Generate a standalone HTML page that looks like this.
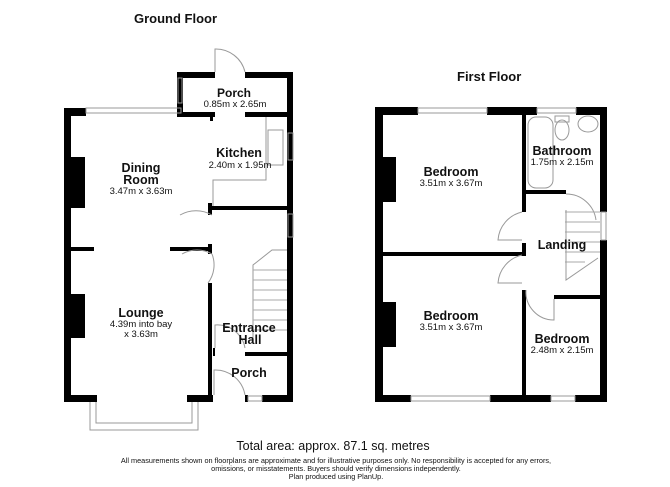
<!DOCTYPE html>
<html><head><meta charset="utf-8"><style>
html,body{margin:0;padding:0;background:#fff;}
svg{display:block;}
text{font-family:"Liberation Sans",Arial,sans-serif;fill:#111;}
.b{font-weight:bold;}
</style></head><body>
<svg width="670" height="487" viewBox="0 0 670 487" xmlns="http://www.w3.org/2000/svg">
<g fill="#000">
<rect x="64" y="108" width="7" height="294"/>
<rect x="64" y="108" width="22" height="8"/>
<rect x="177" y="72" width="6" height="45"/>
<rect x="177" y="72" width="38" height="6"/>
<rect x="245" y="72" width="48" height="6"/>
<rect x="287" y="72" width="6" height="330"/>
<rect x="180" y="112" width="35" height="5"/>
<rect x="210" y="112" width="3" height="9"/>
<rect x="245" y="112" width="48" height="5"/>
<rect x="208" y="206" width="85" height="4"/>
<rect x="208" y="203" width="4" height="12"/>
<rect x="64" y="247" width="30" height="4"/>
<rect x="170" y="247" width="42" height="4"/>
<rect x="208" y="244" width="4" height="10"/>
<rect x="208" y="283" width="4" height="119"/>
<rect x="64" y="395" width="33" height="7"/>
<rect x="187" y="395" width="26" height="7"/>
<rect x="64" y="157" width="21" height="51"/>
<rect x="64" y="294" width="21" height="44"/>
<rect x="245" y="352" width="48" height="4"/>
<rect x="213" y="348" width="2" height="8"/>
<rect x="245" y="395" width="3" height="7"/>
<rect x="262" y="395" width="31" height="7"/>
<rect x="375" y="107" width="8" height="295"/>
<rect x="375" y="107" width="43" height="8"/>
<rect x="487" y="107" width="50" height="8"/>
<rect x="576" y="107" width="31" height="8"/>
<rect x="600" y="107" width="7" height="105"/>
<rect x="600" y="240" width="7" height="162"/>
<rect x="375" y="395" width="36" height="7"/>
<rect x="490" y="395" width="61" height="7"/>
<rect x="575" y="395" width="32" height="7"/>
<rect x="522" y="115" width="4" height="97"/>
<rect x="522" y="190" width="44" height="4"/>
<rect x="522" y="243" width="4" height="12"/>
<rect x="383" y="252" width="143" height="4"/>
<rect x="522" y="290" width="4" height="112"/>
<rect x="554" y="295" width="46" height="4"/>
<rect x="383" y="157" width="13" height="45"/>
<rect x="383" y="302" width="13" height="45"/>
</g>
<g fill="none" stroke="#999" stroke-width="1">
<rect x="86" y="108" width="95" height="5"/>
<rect x="178" y="78" width="4" height="25"/>
<rect x="288" y="133" width="5" height="27"/>
<rect x="288" y="214" width="5" height="23"/>
<rect x="248" y="396" width="14" height="5"/>
<polyline points="90,402 90,430 198,430 198,402"/>
<polyline points="96,402 96,423 192,423 192,402"/>
<rect x="418" y="108" width="69" height="5"/>
<rect x="537" y="108" width="39" height="5"/>
<rect x="601" y="212" width="5" height="28"/>
<rect x="411" y="396" width="79" height="5"/>
<rect x="551" y="396" width="24" height="5"/>
<path d="M215 72 L215 49 A30 30 0 0 1 245 72"/>
<path d="M212 215 A32 32 0 0 0 180 215"/>
<path d="M212 254 A30 30 0 0 0 182 254"/>
<path d="M212 254 A30 30 0 0 1 208 283"/>
<path d="M214 395 L214 370 A30 30 0 0 1 245 395"/>
<path d="M215 348 L215 325 A28 28 0 0 1 245 348"/>
<path d="M522 212 A31 31 0 0 0 498 240 L522 240"/>
<path d="M522 255 A31 31 0 0 0 498 283 L522 283"/>
<path d="M526 290 A28 28 0 0 0 554 320 L554 299"/>
<path d="M566 194 A30 30 0 0 1 596 220"/>
<polyline points="266,117 266,180 213,180 213,206"/>
<rect x="268" y="130" width="15" height="35"/>
<polyline points="253,340 253,265 272,250 287,250"/>
<g stroke="#aaa">
<line x1="253" y1="270" x2="287" y2="270"/><line x1="253" y1="280" x2="287" y2="280"/>
<line x1="253" y1="290" x2="287" y2="290"/><line x1="253" y1="300" x2="287" y2="300"/>
<line x1="253" y1="310" x2="287" y2="310"/><line x1="253" y1="320" x2="287" y2="320"/>
<line x1="253" y1="330" x2="287" y2="330"/>
<line x1="565" y1="212" x2="600" y2="212"/><line x1="565" y1="222" x2="600" y2="222"/>
<line x1="565" y1="232" x2="600" y2="232"/><line x1="565" y1="242" x2="600" y2="242"/>
<line x1="565" y1="252" x2="600" y2="252"/><line x1="565" y1="262" x2="585" y2="262"/>
</g>
<polyline points="566,210 566,280 598,258"/>
<rect x="528" y="117" width="25" height="71" rx="8"/>
<ellipse cx="562" cy="130" rx="7" ry="10"/>
<rect x="555" y="116" width="14" height="6"/>
<ellipse cx="588" cy="124" rx="10" ry="8"/>
</g>
<text x="134" y="23" font-size="13" class="b">Ground Floor</text>
<text x="457" y="81" font-size="13" class="b">First Floor</text>
<g text-anchor="middle">
<text x="234" y="97" font-size="12" class="b">Porch</text>
<text x="235" y="107" font-size="9.5">0.85m x 2.65m</text>
<text x="239" y="157" font-size="12.5" class="b">Kitchen</text>
<text x="240" y="168" font-size="9.5">2.40m x 1.95m</text>
<text x="141" y="172" font-size="12.5" class="b">Dining</text>
<text x="141" y="184" font-size="12.5" class="b">Room</text>
<text x="141" y="194" font-size="9.5">3.47m x 3.63m</text>
<text x="141" y="317" font-size="12.5" class="b">Lounge</text>
<text x="141" y="327" font-size="9.5">4.39m into bay</text>
<text x="141" y="337" font-size="9.5">x 3.63m</text>
<text x="249" y="332" font-size="12.5" class="b">Entrance</text>
<text x="250" y="344" font-size="12.5" class="b">Hall</text>
<text x="249" y="377" font-size="12.5" class="b">Porch</text>
<text x="451" y="176" font-size="12.5" class="b">Bedroom</text>
<text x="451" y="186" font-size="9.5">3.51m x 3.67m</text>
<text x="562" y="155" font-size="12.5" class="b">Bathroom</text>
<text x="562" y="165" font-size="9.5">1.75m x 2.15m</text>
<text x="562" y="249" font-size="12.5" class="b">Landing</text>
<text x="451" y="320" font-size="12.5" class="b">Bedroom</text>
<text x="451" y="330" font-size="9.5">3.51m x 3.67m</text>
<text x="562" y="343" font-size="12.5" class="b">Bedroom</text>
<text x="562" y="353" font-size="9.5">2.48m x 2.15m</text>
<text x="333" y="450" font-size="12.5">Total area: approx. 87.1 sq. metres</text>
<text x="336" y="463" font-size="7.3">All measurements shown on floorplans are approximate and for illustrative purposes only. No responsibility is accepted for any errors,</text>
<text x="336" y="471" font-size="7.3">omissions, or misstatements. Buyers should verify dimensions independently.</text>
<text x="336" y="479" font-size="7.3">Plan produced using PlanUp.</text>
</g>
</svg>
</body></html>
